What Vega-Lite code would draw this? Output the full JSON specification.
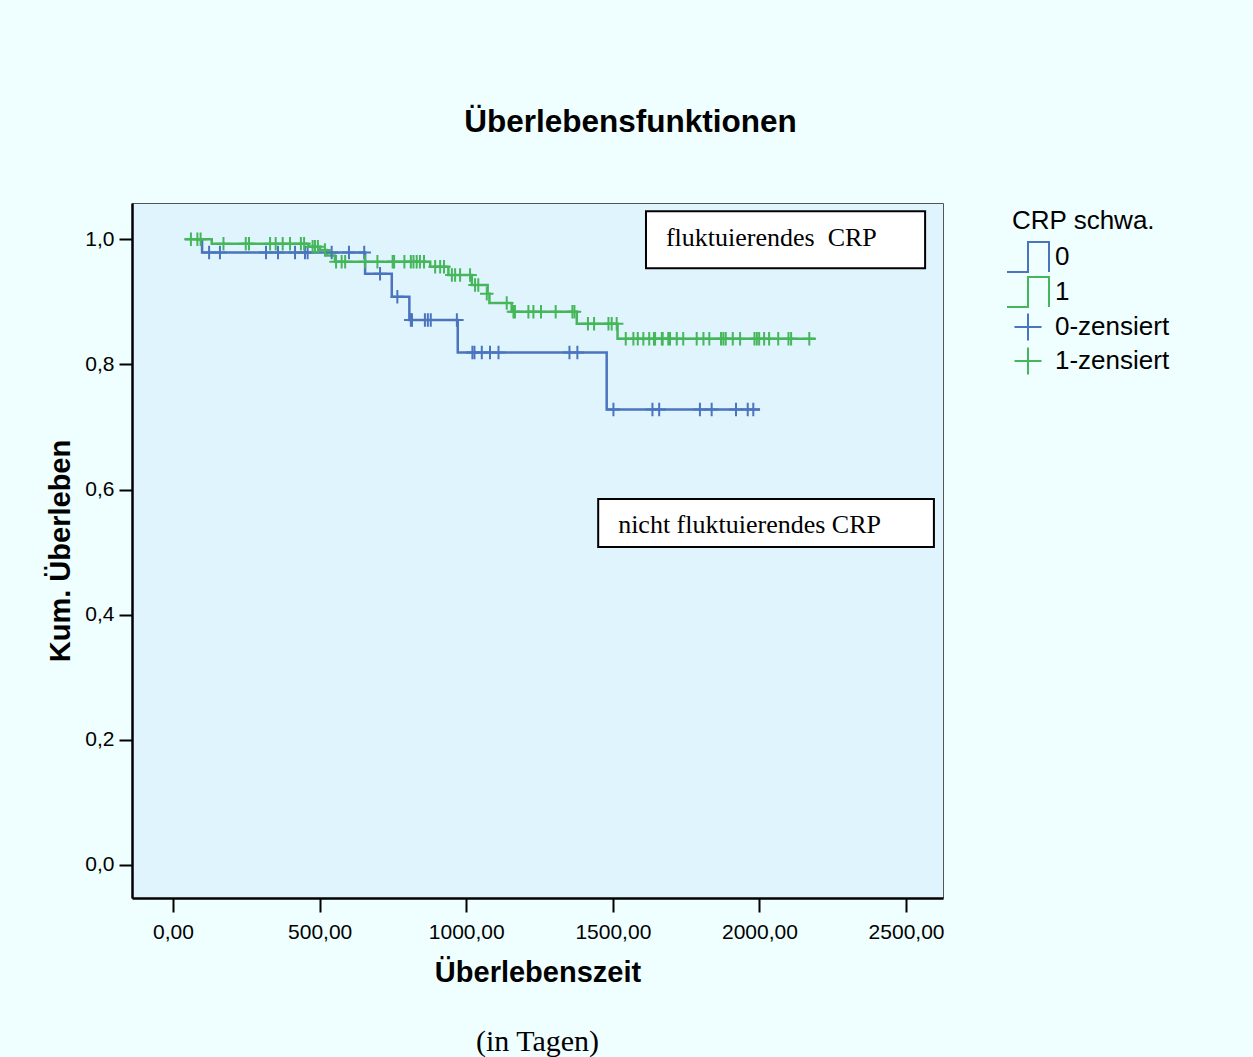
{
  "$schema": "https://vega.github.io/schema/vega-lite/v6.json",
  "autosize": "none",
  "width": 811,
  "height": 695,
  "padding": {"left": 132, "top": 203, "right": 310, "bottom": 159},
  "background": "#EFFEFE",
  "title": {"text": "(in Tagen)", "orient": "bottom", "anchor": "middle", "font": "Liberation Serif", "fontSize": 30, "fontWeight": "normal", "color": "black", "offset": 40},
  "config": {
    "view": {"fill": "#E0F4FE", "stroke": "#555555", "strokeWidth": 1},
    "axis": {"labelFont": "Liberation Sans", "titleFont": "Liberation Sans", "labelColor": "black", "titleColor": "black", "grid": false}
  },
  "resolve": {"axis": {"x": "independent"}},
  "datasets": {
    "steps": [
      {"t": 85, "s": 1.0, "grp": "0"}, {"t": 99, "s": 0.979, "grp": "0"}, {"t": 655, "s": 0.945, "grp": "0"}, {"t": 746, "s": 0.908, "grp": "0"}, {"t": 806, "s": 0.871, "grp": "0"}, {"t": 971, "s": 0.819, "grp": "0"}, {"t": 1479, "s": 0.728, "grp": "0"}, {"t": 2002, "s": 0.728, "grp": "0"},
      {"t": 41, "s": 1.0, "grp": "1"}, {"t": 132, "s": 0.993, "grp": "1"}, {"t": 462, "s": 0.988, "grp": "1"}, {"t": 501, "s": 0.983, "grp": "1"}, {"t": 524, "s": 0.974, "grp": "1"}, {"t": 552, "s": 0.964, "grp": "1"}, {"t": 877, "s": 0.956, "grp": "1"}, {"t": 939, "s": 0.943, "grp": "1"}, {"t": 1019, "s": 0.927, "grp": "1"}, {"t": 1073, "s": 0.913, "grp": "1"}, {"t": 1079, "s": 0.898, "grp": "1"}, {"t": 1155, "s": 0.884, "grp": "1"}, {"t": 1377, "s": 0.865, "grp": "1"}, {"t": 1516, "s": 0.841, "grp": "1"}, {"t": 2190, "s": 0.841, "grp": "1"}
    ],
    "censors": [
      {"t": 123, "s": 0.979, "series": "0-zensiert"}, {"t": 160, "s": 0.979, "series": "0-zensiert"}, {"t": 317, "s": 0.979, "series": "0-zensiert"}, {"t": 358, "s": 0.979, "series": "0-zensiert"}, {"t": 416, "s": 0.979, "series": "0-zensiert"}, {"t": 450, "s": 0.979, "series": "0-zensiert"}, {"t": 459, "s": 0.979, "series": "0-zensiert"}, {"t": 541, "s": 0.979, "series": "0-zensiert"}, {"t": 600, "s": 0.979, "series": "0-zensiert"}, {"t": 652, "s": 0.979, "series": "0-zensiert"},
      {"t": 706, "s": 0.945, "series": "0-zensiert"},
      {"t": 765, "s": 0.908, "series": "0-zensiert"},
      {"t": 811, "s": 0.871, "series": "0-zensiert"}, {"t": 815, "s": 0.871, "series": "0-zensiert"}, {"t": 859, "s": 0.871, "series": "0-zensiert"}, {"t": 869, "s": 0.871, "series": "0-zensiert"}, {"t": 879, "s": 0.871, "series": "0-zensiert"}, {"t": 968, "s": 0.871, "series": "0-zensiert"},
      {"t": 1021, "s": 0.819, "series": "0-zensiert"}, {"t": 1028, "s": 0.819, "series": "0-zensiert"}, {"t": 1053, "s": 0.819, "series": "0-zensiert"}, {"t": 1081, "s": 0.819, "series": "0-zensiert"}, {"t": 1110, "s": 0.819, "series": "0-zensiert"}, {"t": 1352, "s": 0.819, "series": "0-zensiert"}, {"t": 1379, "s": 0.819, "series": "0-zensiert"},
      {"t": 1502, "s": 0.728, "series": "0-zensiert"}, {"t": 1635, "s": 0.728, "series": "0-zensiert"}, {"t": 1658, "s": 0.728, "series": "0-zensiert"}, {"t": 1797, "s": 0.728, "series": "0-zensiert"}, {"t": 1837, "s": 0.728, "series": "0-zensiert"}, {"t": 1920, "s": 0.728, "series": "0-zensiert"}, {"t": 1960, "s": 0.728, "series": "0-zensiert"}, {"t": 1979, "s": 0.728, "series": "0-zensiert"},
      {"t": 61, "s": 1.0, "series": "1-zensiert"}, {"t": 83, "s": 1.0, "series": "1-zensiert"}, {"t": 94, "s": 1.0, "series": "1-zensiert"},
      {"t": 172, "s": 0.993, "series": "1-zensiert"}, {"t": 248, "s": 0.993, "series": "1-zensiert"}, {"t": 259, "s": 0.993, "series": "1-zensiert"}, {"t": 331, "s": 0.993, "series": "1-zensiert"}, {"t": 350, "s": 0.993, "series": "1-zensiert"}, {"t": 374, "s": 0.993, "series": "1-zensiert"}, {"t": 399, "s": 0.993, "series": "1-zensiert"}, {"t": 436, "s": 0.993, "series": "1-zensiert"}, {"t": 447, "s": 0.993, "series": "1-zensiert"},
      {"t": 476, "s": 0.988, "series": "1-zensiert"}, {"t": 484, "s": 0.988, "series": "1-zensiert"}, {"t": 494, "s": 0.988, "series": "1-zensiert"},
      {"t": 518, "s": 0.983, "series": "1-zensiert"},
      {"t": 556, "s": 0.964, "series": "1-zensiert"}, {"t": 575, "s": 0.964, "series": "1-zensiert"}, {"t": 587, "s": 0.964, "series": "1-zensiert"}, {"t": 655, "s": 0.964, "series": "1-zensiert"}, {"t": 697, "s": 0.964, "series": "1-zensiert"}, {"t": 749, "s": 0.964, "series": "1-zensiert"}, {"t": 754, "s": 0.964, "series": "1-zensiert"}, {"t": 789, "s": 0.964, "series": "1-zensiert"}, {"t": 811, "s": 0.964, "series": "1-zensiert"}, {"t": 820, "s": 0.964, "series": "1-zensiert"}, {"t": 831, "s": 0.964, "series": "1-zensiert"}, {"t": 842, "s": 0.964, "series": "1-zensiert"}, {"t": 856, "s": 0.964, "series": "1-zensiert"},
      {"t": 894, "s": 0.956, "series": "1-zensiert"}, {"t": 911, "s": 0.956, "series": "1-zensiert"}, {"t": 924, "s": 0.956, "series": "1-zensiert"},
      {"t": 951, "s": 0.943, "series": "1-zensiert"}, {"t": 962, "s": 0.943, "series": "1-zensiert"}, {"t": 979, "s": 0.943, "series": "1-zensiert"}, {"t": 1013, "s": 0.943, "series": "1-zensiert"},
      {"t": 1030, "s": 0.927, "series": "1-zensiert"}, {"t": 1041, "s": 0.927, "series": "1-zensiert"},
      {"t": 1070, "s": 0.913, "series": "1-zensiert"},
      {"t": 1138, "s": 0.898, "series": "1-zensiert"},
      {"t": 1161, "s": 0.884, "series": "1-zensiert"}, {"t": 1166, "s": 0.884, "series": "1-zensiert"}, {"t": 1212, "s": 0.884, "series": "1-zensiert"}, {"t": 1229, "s": 0.884, "series": "1-zensiert"}, {"t": 1255, "s": 0.884, "series": "1-zensiert"}, {"t": 1305, "s": 0.884, "series": "1-zensiert"}, {"t": 1362, "s": 0.884, "series": "1-zensiert"}, {"t": 1369, "s": 0.884, "series": "1-zensiert"},
      {"t": 1415, "s": 0.865, "series": "1-zensiert"}, {"t": 1436, "s": 0.865, "series": "1-zensiert"}, {"t": 1485, "s": 0.865, "series": "1-zensiert"}, {"t": 1496, "s": 0.865, "series": "1-zensiert"}, {"t": 1513, "s": 0.865, "series": "1-zensiert"},
      {"t": 1544, "s": 0.841, "series": "1-zensiert"}, {"t": 1570, "s": 0.841, "series": "1-zensiert"}, {"t": 1585, "s": 0.841, "series": "1-zensiert"}, {"t": 1604, "s": 0.841, "series": "1-zensiert"}, {"t": 1624, "s": 0.841, "series": "1-zensiert"}, {"t": 1640, "s": 0.841, "series": "1-zensiert"}, {"t": 1644, "s": 0.841, "series": "1-zensiert"}, {"t": 1667, "s": 0.841, "series": "1-zensiert"}, {"t": 1670, "s": 0.841, "series": "1-zensiert"}, {"t": 1689, "s": 0.841, "series": "1-zensiert"}, {"t": 1695, "s": 0.841, "series": "1-zensiert"}, {"t": 1718, "s": 0.841, "series": "1-zensiert"}, {"t": 1740, "s": 0.841, "series": "1-zensiert"}, {"t": 1786, "s": 0.841, "series": "1-zensiert"}, {"t": 1809, "s": 0.841, "series": "1-zensiert"}, {"t": 1829, "s": 0.841, "series": "1-zensiert"}, {"t": 1869, "s": 0.841, "series": "1-zensiert"}, {"t": 1877, "s": 0.841, "series": "1-zensiert"}, {"t": 1885, "s": 0.841, "series": "1-zensiert"}, {"t": 1909, "s": 0.841, "series": "1-zensiert"}, {"t": 1934, "s": 0.841, "series": "1-zensiert"}, {"t": 1983, "s": 0.841, "series": "1-zensiert"}, {"t": 1991, "s": 0.841, "series": "1-zensiert"}, {"t": 1999, "s": 0.841, "series": "1-zensiert"}, {"t": 2016, "s": 0.841, "series": "1-zensiert"}, {"t": 2033, "s": 0.841, "series": "1-zensiert"}, {"t": 2064, "s": 0.841, "series": "1-zensiert"}, {"t": 2099, "s": 0.841, "series": "1-zensiert"}, {"t": 2108, "s": 0.841, "series": "1-zensiert"}, {"t": 2170, "s": 0.841, "series": "1-zensiert"}
    ],
    "notes": [
      {"x1": 1613, "x2": 2565, "y1": 1.0447, "y2": 0.9537, "tx": 1681, "ty": 1.0016, "label": "fluktuierendes\u00a0 CRP"},
      {"x1": 1450, "x2": 2595, "y1": 0.5847, "y2": 0.508, "tx": 1518, "ty": 0.543, "label": "nicht fluktuierendes CRP"}
    ]
  },
  "layer": [
    {
      "data": {"name": "steps"},
      "mark": {"type": "line", "interpolate": "step-after", "strokeWidth": 2.5},
      "encoding": {
        "x": {"field": "t", "type": "quantitative", "scale": {"domain": [-140, 2626], "nice": false, "zero": false},
          "axis": {"orient": "bottom", "title": "Überlebenszeit", "values": [0, 500, 1000, 1500, 2000, 2500], "labelExpr": "replace(format(datum.value,'.2f'),'.',',')", "labelFontSize": 21, "titleFontSize": 29, "titleFontWeight": "bold", "tickSize": 14, "tickWidth": 2, "tickColor": "black", "domainColor": "black", "domainWidth": 2.5, "labelPadding": 9, "titlePadding": 16}},
        "y": {"field": "s", "type": "quantitative", "scale": {"domain": [-0.053, 1.058], "nice": false, "zero": false},
          "axis": {"title": "Kum. Überleben", "values": [0, 0.2, 0.4, 0.6, 0.8, 1], "labelExpr": "replace(format(datum.value,'.1f'),'.',',')", "labelFontSize": 21, "titleFontSize": 29, "titleFontWeight": "bold", "tickSize": 13, "tickWidth": 2, "tickColor": "black", "domainColor": "black", "domainWidth": 2.5, "labelPadding": 5, "titlePadding": 9}},
        "stroke": {"field": "grp", "type": "nominal", "scale": {"domain": ["0", "1"], "range": ["#4A74BD", "#45B65A"]}, "legend": null}
      }
    },
    {
      "data": {"name": "notes"},
      "mark": {"type": "rect", "fill": "white", "stroke": "black", "strokeWidth": 2},
      "encoding": {
        "x": {"field": "x1", "type": "quantitative", "axis": null},
        "x2": {"field": "x2"},
        "y": {"field": "y1", "type": "quantitative",
          "axis": {"title": "Kum. Überleben", "values": [0, 0.2, 0.4, 0.6, 0.8, 1], "labelExpr": "replace(format(datum.value,'.1f'),'.',',')", "labelFontSize": 21, "titleFontSize": 29, "titleFontWeight": "bold", "tickSize": 13, "tickWidth": 2, "tickColor": "black", "domainColor": "black", "domainWidth": 2.5, "labelPadding": 5, "titlePadding": 9}},
        "y2": {"field": "y2"}
      }
    },
    {
      "data": {"name": "notes"},
      "mark": {"type": "text", "font": "Liberation Serif", "fontSize": 26, "align": "left", "baseline": "middle", "color": "black"},
      "encoding": {
        "x": {"field": "tx", "type": "quantitative", "axis": null},
        "y": {"field": "ty", "type": "quantitative",
          "axis": {"title": "Kum. Überleben", "values": [0, 0.2, 0.4, 0.6, 0.8, 1], "labelExpr": "replace(format(datum.value,'.1f'),'.',',')", "labelFontSize": 21, "titleFontSize": 29, "titleFontWeight": "bold", "tickSize": 13, "tickWidth": 2, "tickColor": "black", "domainColor": "black", "domainWidth": 2.5, "labelPadding": 5, "titlePadding": 9}},
        "text": {"field": "label"}
      }
    },
    {
      "data": {"name": "censors"},
      "mark": {"type": "point", "filled": false, "size": 225, "strokeWidth": 2, "opacity": 1},
      "encoding": {
        "x": {"field": "t", "type": "quantitative",
          "axis": {"orient": "top", "title": "Überlebensfunktionen", "domain": false, "ticks": false, "labels": false, "titleFontSize": 31.5, "titleFontWeight": "bold", "titleX": 498, "titleY": -81, "titleAlign": "center", "titleBaseline": "middle", "titleAngle": 0}},
        "y": {"field": "s", "type": "quantitative",
          "axis": {"title": "Kum. Überleben", "values": [0, 0.2, 0.4, 0.6, 0.8, 1], "labelExpr": "replace(format(datum.value,'.1f'),'.',',')", "labelFontSize": 21, "titleFontSize": 29, "titleFontWeight": "bold", "tickSize": 13, "tickWidth": 2, "tickColor": "black", "domainColor": "black", "domainWidth": 2.5, "labelPadding": 5, "titlePadding": 9}},
        "color": {"field": "series", "type": "nominal",
          "scale": {"domain": ["0", "1", "0-zensiert", "1-zensiert"], "range": ["#4A74BD", "#45B65A", "#4A74BD", "#45B65A"]},
          "legend": {"title": "CRP schwa.", "orient": "none", "legendX": 880, "legendY": 5, "padding": 0, "titleFont": "Liberation Sans", "titleFontSize": 26, "titleFontWeight": "normal", "titleColor": "black", "labelFont": "Liberation Sans", "labelFontSize": 26, "labelColor": "black", "symbolSize": 900, "symbolStrokeWidth": 2, "labelOffset": 11, "rowPadding": -3, "titlePadding": 7}},
        "shape": {"field": "series", "type": "nominal",
          "scale": {"domain": ["0", "1", "0-zensiert", "1-zensiert"], "range": ["M-1.4,1H0V-1H1.4V1", "M-1.4,1H0V-1H1.4V1", "M-0.9,0H0.9M0,-0.9V0.9", "M-0.9,0H0.9M0,-0.9V0.9"]}}
      }
    }
  ]
}
